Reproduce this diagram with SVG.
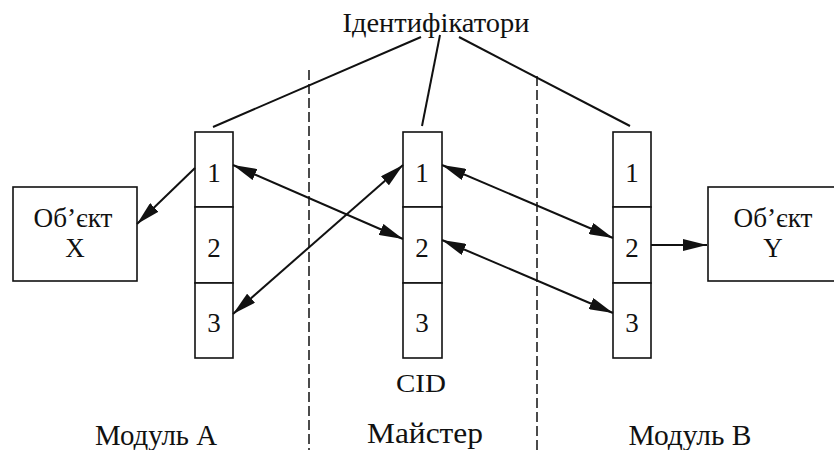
<svg xmlns="http://www.w3.org/2000/svg" width="834" height="450" viewBox="0 0 834 450">
<style>
.box{fill:#fff;stroke:#111;stroke-width:1.6}
text{font-family:'Liberation Serif','Times New Roman',serif;fill:#111;text-anchor:middle}
.c{stroke:#111;stroke-width:2;fill:none}
.d{stroke:#111;stroke-width:1.5;stroke-dasharray:10 4;fill:none}
</style>
<defs>
<marker id="ah" viewBox="0 0 24 12" refX="24" refY="6" markerWidth="24" markerHeight="12" markerUnits="userSpaceOnUse" orient="auto-start-reverse">
<path d="M0,0 L24,6 L0,12 Z" fill="#111"/>
</marker>
</defs>
<rect width="834" height="450" fill="#fff"/>
<g id="separators">
<line class="d" x1="309" y1="70" x2="309" y2="450"/>
<line class="d" x1="537" y1="76" x2="537" y2="450"/>
</g>
<g id="identifiers" font-family="Liberation Serif, serif">
<text x="436" y="32" font-size="28" textLength="187" lengthAdjust="spacingAndGlyphs">Ідентифікатори</text>
</g>
<g id="objectX" font-family="Liberation Serif, serif">
<rect class="box" x="13" y="187" width="124" height="94"/>
<text x="73" y="227" font-size="27" textLength="79" lengthAdjust="spacingAndGlyphs">Об’єкт</text>
<text x="75" y="257" font-size="27">X</text>
</g>
<g id="objectY" font-family="Liberation Serif, serif">
<rect class="box" x="708" y="187" width="140" height="94"/>
<text x="773" y="227" font-size="27" textLength="79" lengthAdjust="spacingAndGlyphs">Об’єкт</text>
<text x="773" y="257" font-size="27">Y</text>
</g>
<g id="moduleA" font-family="Liberation Serif, serif">
<rect class="box" x="195" y="132" width="38" height="75"/>
<rect class="box" x="195" y="207" width="38" height="76"/>
<rect class="box" x="195" y="283" width="38" height="75"/>
<text x="214" y="182" font-size="27">1</text>
<text x="214" y="257" font-size="27">2</text>
<text x="214" y="332" font-size="27">3</text>
<text x="156" y="445" font-size="30" textLength="122" lengthAdjust="spacingAndGlyphs">Модуль A</text>
</g>
<g id="master" font-family="Liberation Serif, serif">
<rect class="box" x="403" y="132" width="39" height="75"/>
<rect class="box" x="403" y="207" width="39" height="76"/>
<rect class="box" x="403" y="283" width="39" height="75"/>
<text x="422" y="182" font-size="27">1</text>
<text x="422" y="257" font-size="27">2</text>
<text x="422" y="332" font-size="27">3</text>
<text x="421" y="392" font-size="26" textLength="50" lengthAdjust="spacingAndGlyphs">CID</text>
<text x="425" y="443" font-size="30" textLength="116" lengthAdjust="spacingAndGlyphs">Майстер</text>
</g>
<g id="moduleB" font-family="Liberation Serif, serif">
<rect class="box" x="613" y="132" width="38" height="75"/>
<rect class="box" x="613" y="207" width="38" height="76"/>
<rect class="box" x="613" y="283" width="38" height="75"/>
<text x="632" y="182" font-size="27">1</text>
<text x="632" y="257" font-size="27">2</text>
<text x="632" y="332" font-size="27">3</text>
<text x="690" y="445" font-size="30" textLength="123" lengthAdjust="spacingAndGlyphs">Модуль B</text>
</g>
<g id="connectors">
<line class="c" x1="421" y1="37" x2="213" y2="127"/>
<line class="c" x1="440" y1="35" x2="422" y2="126"/>
<line class="c" x1="459" y1="37" x2="630" y2="126"/>
<line class="c" x1="195" y1="168" x2="137" y2="224" marker-end="url(#ah)"/>
<line class="c" x1="233" y1="165" x2="403" y2="239" marker-start="url(#ah)" marker-end="url(#ah)"/>
<line class="c" x1="403" y1="165" x2="233" y2="314" marker-start="url(#ah)" marker-end="url(#ah)"/>
<line class="c" x1="442" y1="165" x2="613" y2="238" marker-start="url(#ah)" marker-end="url(#ah)"/>
<line class="c" x1="442" y1="240" x2="613" y2="313" marker-start="url(#ah)" marker-end="url(#ah)"/>
<line class="c" x1="651" y1="245" x2="707" y2="245" marker-end="url(#ah)"/>
</g>
</svg>
